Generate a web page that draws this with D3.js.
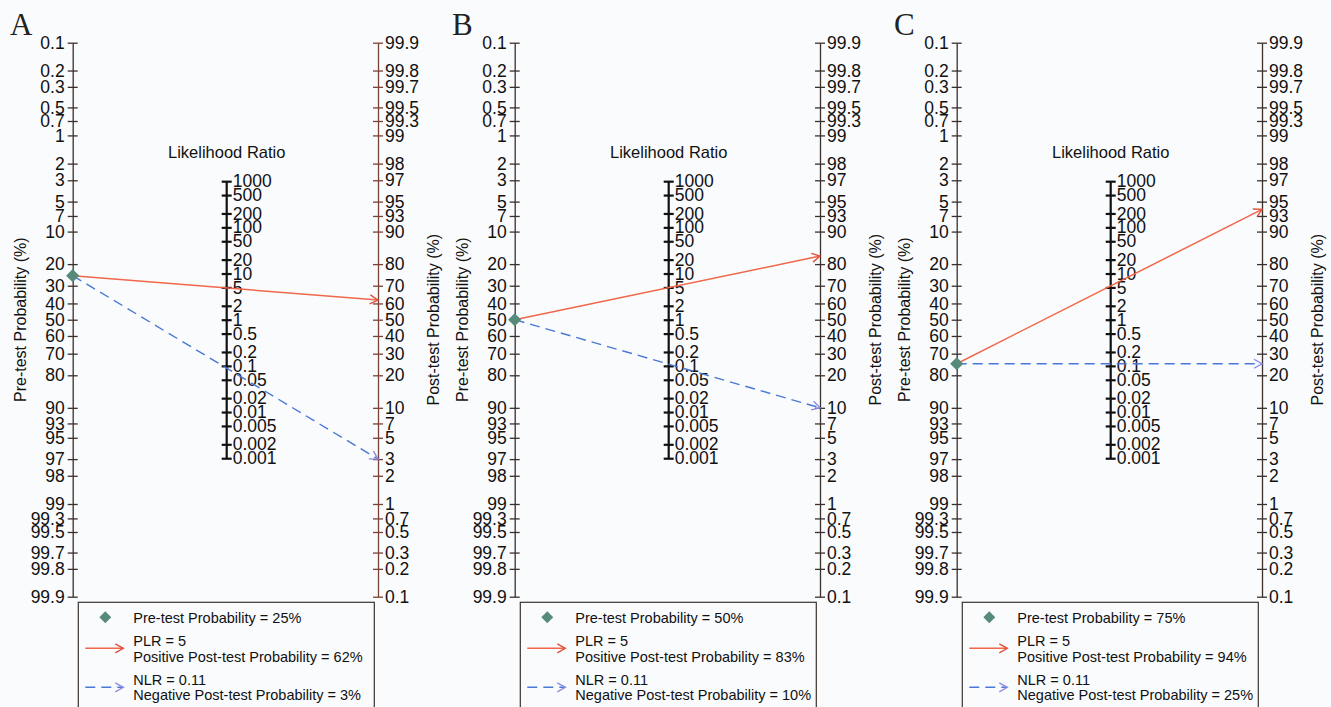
<!DOCTYPE html>
<html>
<head>
<meta charset="utf-8">
<script src="https://cdn.jsdelivr.net/npm/d3@7"></script>
<style>
  html, body { margin: 0; padding: 0; background: #fafbfd; }
  svg { display: block; font-family: "Liberation Sans", Arial, Helvetica, sans-serif; }
</style>
</head>
<body>
<svg id="chart" width="1331" height="707"></svg>
<script>
// Fagan nomograms for three pre-test probabilities
const panelLetters = ["A", "B", "C"];
const preTest = [25, 50, 75];          // %
const plrValues = [5, 5, 5];
const nlrValues = [0.11, 0.11, 0.11];
const postPositive = [62, 83, 94];     // %
const postNegative = [3, 10, 25];      // %

const preTicks = [0.1, 0.2, 0.3, 0.5, 0.7, 1, 2, 3, 5, 7, 10, 20, 30, 40, 50, 60, 70, 80, 90, 93, 95, 97, 98, 99, 99.3, 99.5, 99.7, 99.8, 99.9];
const postTicks = [99.9, 99.8, 99.7, 99.5, 99.3, 99, 98, 97, 95, 93, 90, 80, 70, 60, 50, 40, 30, 20, 10, 7, 5, 3, 2, 1, 0.7, 0.5, 0.3, 0.2, 0.1];
const lrTicks = [1000, 500, 200, 100, 50, 20, 10, 5, 2, 1, 0.5, 0.2, 0.1, 0.05, 0.02, 0.01, 0.005, 0.002, 0.001];

const svg = d3.select("#chart");
const logit = p => Math.log(p / (1 - p));

// shared logit scale (vertical)
const yLogit = d3.scaleLinear()
  .domain([logit(0.001), logit(0.999)])
  .range([42.7, 596.7]);
const yPre = p => yLogit(logit(p / 100));
const yPost = p => yLogit(-logit(p / 100));
const yLR = lr => yLogit(-Math.log(lr) / 2);

const panelStep = 442;
const xLeft0 = 72.7, xMid0 = 226.7, xRight0 = 378;

const colPos = "#f0674a", colPosHead = "#e0503a";
const colNeg = "#4a78d6", colNegHead = "#8a8de2";
const colDiamond = "#568a7b";

const defs = svg.append("defs");
function marker(id, color) {
  defs.append("marker")
    .attr("id", id)
    .attr("viewBox", "-10 -6 12 12")
    .attr("refX", 0).attr("refY", 0)
    .attr("markerWidth", 12).attr("markerHeight", 12)
    .attr("markerUnits", "userSpaceOnUse")
    .attr("orient", "auto")
    .append("path")
    .attr("d", "M-8,-4.5 L0,0 L-8,4.5")
    .attr("fill", "none")
    .attr("stroke", color)
    .attr("stroke-width", 1.4);
}
marker("arrPos", colPosHead);
marker("arrNeg", colNegHead);

function styleAxis(g, color, width, half, fontSize) {
  g.select(".domain").attr("stroke", color).attr("stroke-width", width);
  g.selectAll(".tick line")
    .attr("stroke", color).attr("stroke-width", width)
    .attr("x1", -half).attr("x2", half);
  g.selectAll(".tick text")
    .attr("fill", "#111")
    .style("font-size", fontSize + "px");
}

panelLetters.forEach((letter, i) => {
  const off = i * panelStep;
  const xL = xLeft0 + off, xM = xMid0 + off, xR = xRight0 + off;
  const g = svg.append("g");

  // panel letter
  g.append("text")
    .attr("x", 10 + off).attr("y", 35)
    .attr("font-family", "'Liberation Serif', 'Times New Roman', serif")
    .attr("font-size", 31)
    .attr("fill", "#222")
    .text(letter);

  // pre-test axis
  const leftAxis = d3.axisLeft(yLogit)
    .tickValues(preTicks.map(p => logit(p / 100)))
    .tickFormat((d, k) => String(preTicks[k]))
    .tickSizeOuter(0).tickSizeInner(5).tickPadding(3);
  const gl = g.append("g").attr("transform", `translate(${xL},0)`).call(leftAxis);
  styleAxis(gl, "#3a302c", 1.3, 5, 17.5);

  // post-test axis
  const rightAxis = d3.axisRight(yLogit)
    .tickValues(postTicks.map(p => -logit(p / 100)))
    .tickFormat((d, k) => String(postTicks[k]))
    .tickSizeOuter(0).tickSizeInner(5).tickPadding(2);
  const gr = g.append("g").attr("transform", `translate(${xR},0)`).call(rightAxis);
  styleAxis(gr, i === 0 ? "#7a4236" : "#3a302c", 1.3, 5, 17.5);

  // likelihood ratio axis
  const lrScale = d3.scaleLinear().domain(yLogit.domain().map(v => -2 * v)).range(yLogit.range());
  const midAxis = d3.axisRight(lrScale)
    .tickValues(lrTicks.map(v => Math.log(v)))
    .tickFormat((d, k) => String(lrTicks[k]))
    .tickSizeOuter(0).tickSizeInner(5).tickPadding(1);
  const gm = g.append("g").attr("transform", `translate(${xM},0)`).call(midAxis);
  gm.select(".domain").attr("d", `M0,${yLR(1000)}V${yLR(0.001)}`);
  styleAxis(gm, "#111", 2.2, 5, 17.5);

  g.append("text")
    .attr("x", xM).attr("y", 152)
    .attr("text-anchor", "middle").attr("dominant-baseline", "central")
    .attr("font-size", 16.5).attr("fill", "#111")
    .text("Likelihood Ratio");

  // axis titles
  g.append("text")
    .attr("transform", `translate(${20 + off},${yLogit(0)}) rotate(-90)`)
    .attr("text-anchor", "middle").attr("dominant-baseline", "central")
    .attr("font-size", 16).attr("fill", "#111")
    .text("Pre-test Probability (%)");
  g.append("text")
    .attr("transform", `translate(${433 + off},${yLogit(0)}) rotate(-90)`)
    .attr("text-anchor", "middle").attr("dominant-baseline", "central")
    .attr("font-size", 16).attr("fill", "#111")
    .text("Post-test Probability (%)");

  // negative LR line
  g.append("line")
    .attr("x1", xL).attr("y1", yPre(preTest[i]))
    .attr("x2", xR).attr("y2", yPost(postNegative[i]))
    .attr("stroke", colNeg).attr("stroke-width", 1.4)
    .attr("stroke-dasharray", "10,6")
    .attr("marker-end", "url(#arrNeg)");
  // positive LR line
  g.append("line")
    .attr("x1", xL).attr("y1", yPre(preTest[i]))
    .attr("x2", xR).attr("y2", yPost(postPositive[i]))
    .attr("stroke", colPos).attr("stroke-width", 1.5)
    .attr("marker-end", "url(#arrPos)");

  // pre-test marker
  g.append("path")
    .attr("d", d3.symbol(d3.symbolDiamond2, 110)())
    .attr("transform", `translate(${xL},${yPre(preTest[i])})`)
    .attr("fill", colDiamond);

  // legend
  const lx = 78.3 + off, ly = 602.3, lw = 296;
  const lg = g.append("g");
  lg.append("rect")
    .attr("x", lx).attr("y", ly).attr("width", lw).attr("height", 130)
    .attr("fill", "#fafbfd").attr("stroke", "#3a3430").attr("stroke-width", 1.2);
  lg.append("path")
    .attr("d", d3.symbol(d3.symbolDiamond2, 90)())
    .attr("transform", `translate(${lx + 27},${ly + 15})`)
    .attr("fill", colDiamond);
  const tx = lx + 55;
  const legendText = (y, s) => lg.append("text")
    .attr("x", tx).attr("y", y)
    .attr("dominant-baseline", "central")
    .attr("font-size", 14.5).attr("fill", "#111").text(s);
  legendText(ly + 15.5, `Pre-test Probability = ${preTest[i]}%`);
  lg.append("line")
    .attr("x1", lx + 7).attr("x2", lx + 45)
    .attr("y1", ly + 46).attr("y2", ly + 46)
    .attr("stroke", colPos).attr("stroke-width", 1.5)
    .attr("marker-end", "url(#arrPos)");
  legendText(ly + 39, `PLR = ${plrValues[i]}`);
  legendText(ly + 54.5, `Positive Post-test Probability = ${postPositive[i]}%`);
  lg.append("line")
    .attr("x1", lx + 7).attr("x2", lx + 45)
    .attr("y1", ly + 85).attr("y2", ly + 85)
    .attr("stroke", colNeg).attr("stroke-width", 1.4)
    .attr("stroke-dasharray", "10,6")
    .attr("marker-end", "url(#arrNeg)");
  legendText(ly + 78, `NLR = ${nlrValues[i]}`);
  legendText(ly + 93, `Negative Post-test Probability = ${postNegative[i]}%`);
});
</script>
</body>
</html>
